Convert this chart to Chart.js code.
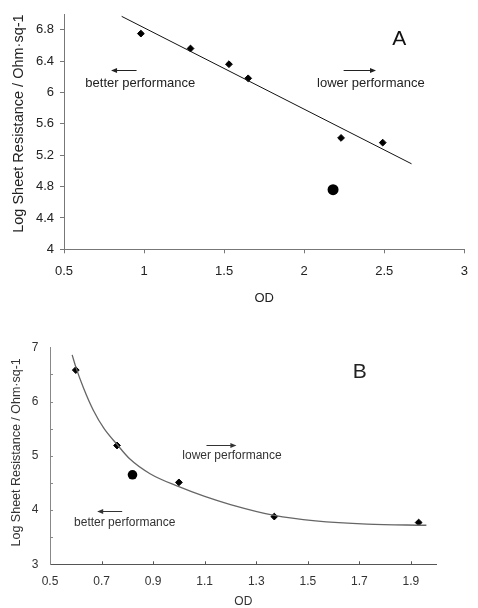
<!DOCTYPE html>
<html><head><meta charset="utf-8">
<script src="https://cdn.jsdelivr.net/npm/chart.js@4.4.1/dist/chart.umd.min.js"></script>
<style>
html,body{margin:0;padding:0;background:#fff;}
body{width:478px;height:608px;position:relative;overflow:hidden;}
canvas{position:absolute;left:0;}
#cA{top:0;} #cB{top:300px;}
</style></head><body>
<canvas id="cA" width="478" height="310"></canvas>
<canvas id="cB" width="478" height="308"></canvas>
<script>
// ---- Panel A data ----
const odA = [0.98, 1.29, 1.53, 1.65, 2.23, 2.49];
const rsA = [6.75, 6.56, 6.36, 6.18, 5.42, 5.36];
const odCircleA = [2.18];
const rsCircleA = [4.76];
const trendAX = [0.86, 2.67];
const trendAY = [6.97, 5.09];
const xTicksA = [0.5, 1, 1.5, 2, 2.5, 3];
const yTicksA = [4, 4.4, 4.8, 5.2, 5.6, 6, 6.4, 6.8];

// ---- Panel B data ----
const odB = [0.60, 0.76, 1.00, 1.37, 1.93];
const rsB = [6.58, 5.19, 4.51, 3.88, 3.77];
const odCircleB = [0.82];
const rsCircleB = [4.65];
const fitBX = [0.586, 0.60, 0.63, 0.668, 0.71, 0.76, 0.81, 0.888, 1.0, 1.1, 1.2, 1.37, 1.53, 1.73, 1.96];
const fitBY = [6.86, 6.64, 6.25, 5.84, 5.50, 5.21, 4.94, 4.67, 4.43, 4.25, 4.10, 3.90, 3.80, 3.74, 3.72];
const xTicksB = [0.5, 0.7, 0.9, 1.1, 1.3, 1.5, 1.7, 1.9];
const yTicksB = [3, 4, 5, 6, 7];
const yMarksB = [3.5, 4, 4.5, 5, 5.5, 6, 6.5];

const yTitle = 'Log Sheet Resistance / Ohm\u00b7sq-1';
const FONT = "'Liberation Sans', Arial, Helvetica, sans-serif";

const pts = (xs, ys) => xs.map((x, i) => ({x: x, y: ys[i]}));

const annotPlugin = {
  id: 'annot',
  afterDatasetsDraw(chart, args, opts) {
    const ctx = chart.ctx, xs = chart.scales.x, ys = chart.scales.y, ca = chart.chartArea;
    ctx.save();
    (opts.marksX || []).forEach(v => {
      const x = Math.round(xs.getPixelForValue(v)) + 0.5;
      ctx.strokeStyle = opts.markColorX; ctx.lineWidth = 1;
      ctx.beginPath(); ctx.moveTo(x, ca.bottom); ctx.lineTo(x, ca.bottom - 3); ctx.stroke();
    });
    (opts.marksY || []).forEach(v => {
      const y = Math.round(ys.getPixelForValue(v)) + 0.5;
      ctx.strokeStyle = opts.markColorY; ctx.lineWidth = 1;
      ctx.beginPath(); ctx.moveTo(ca.left, y); ctx.lineTo(ca.left + 3, y); ctx.stroke();
    });
    (opts.texts || []).forEach(t => {
      ctx.font = t.font; ctx.fillStyle = t.color;
      ctx.textAlign = 'center'; ctx.textBaseline = 'middle';
      ctx.fillText(t.text, xs.getPixelForValue(t.x), ys.getPixelForValue(t.y));
    });
    (opts.arrows || []).forEach(a => {
      const x1 = xs.getPixelForValue(a.x1), x2 = xs.getPixelForValue(a.x2);
      const y = Math.round(ys.getPixelForValue(a.y)) + 0.5;
      ctx.strokeStyle = a.color; ctx.fillStyle = a.color; ctx.lineWidth = 1;
      ctx.beginPath(); ctx.moveTo(x1, y); ctx.lineTo(x2, y); ctx.stroke();
      const d = Math.sign(x2 - x1);
      ctx.beginPath(); ctx.moveTo(x2 + d, y); ctx.lineTo(x2 - d * 5, y - 2.5); ctx.lineTo(x2 - d * 5, y + 2.5);
      ctx.closePath(); ctx.fill();
    });
    ctx.restore();
  }
};

Chart.defaults.font.family = FONT;

new Chart(document.getElementById('cA'), {
  type: 'scatter',
  data: {
    datasets: [
      {data: pts(trendAX, trendAY), showLine: true, borderColor: '#111', borderWidth: 1, pointRadius: 0, fill: false},
      {data: pts(odA, rsA), pointStyle: 'rectRot', pointRadius: 3.4, backgroundColor: '#000', borderColor: '#000', borderWidth: 1},
      {data: pts(odCircleA, rsCircleA), pointStyle: 'circle', pointRadius: 5.5, backgroundColor: '#000', borderColor: '#000', borderWidth: 0}
    ]
  },
  options: {
    responsive: false, animation: false, events: [],
    layout: {padding: {top: 14, right: 6, left: 0, bottom: 0}},
    plugins: {
      legend: {display: false}, tooltip: {enabled: false},
      annot: {
        texts: [
          {text: 'A', x: 2.593, y: 6.685, font: "21px " + FONT, color: '#111'},
          {text: 'better performance', x: 0.976, y: 6.121, font: "13px " + FONT, color: '#222'},
          {text: 'lower performance', x: 2.416, y: 6.121, font: "13px " + FONT, color: '#222'}
        ],
        arrows: [
          {x1: 0.953, x2: 0.80, y: 6.288, color: '#222'},
          {x1: 2.246, x2: 2.442, y: 6.288, color: '#222'}
        ]
      }
    },
    scales: {
      x: {
        type: 'linear', min: 0.5, max: 3,
        afterBuildTicks: s => { s.ticks = xTicksA.map(v => ({value: v})); },
        afterFit: s => { s.height = 60.7; },
        ticks: {font: {size: 13}, color: '#222', padding: 10, maxRotation: 0, autoSkip: false, callback: v => String(v)},
        grid: {drawOnChartArea: false, drawTicks: true, tickLength: 4, color: '#777'},
        border: {color: '#777', width: 1},
        title: {display: true, text: 'OD', font: {size: 13}, color: '#222', padding: {top: 0, bottom: 4}}
      },
      y: {
        type: 'linear', min: 4, max: 7,
        afterBuildTicks: s => { s.ticks = yTicksA.map(v => ({value: v})); },
        afterFit: s => { s.width = 64; },
        ticks: {font: {size: 13}, color: '#222', padding: 6, autoSkip: false, callback: v => String(v)},
        grid: {drawOnChartArea: false, drawTicks: true, tickLength: 4, color: '#777'},
        border: {color: '#777', width: 1},
        title: {display: true, text: '\u00a0\u00a0\u00a0\u00a0' + yTitle, font: {size: 14.5}, color: '#222', padding: {top: 10, bottom: 0}}
      }
    }
  },
  plugins: [annotPlugin]
});

new Chart(document.getElementById('cB'), {
  type: 'scatter',
  data: {
    datasets: [
      {data: pts(fitBX, fitBY), showLine: true, borderColor: '#666', borderWidth: 1.3, pointRadius: 0, fill: false, cubicInterpolationMode: 'monotone'},
      {data: pts(odB, rsB), pointStyle: 'rectRot', pointRadius: 3.4, backgroundColor: '#000', borderColor: '#000', borderWidth: 1},
      {data: pts(odCircleB, rsCircleB), pointStyle: 'circle', pointRadius: 4.8, backgroundColor: '#000', borderColor: '#000', borderWidth: 0}
    ]
  },
  options: {
    responsive: false, animation: false, events: [],
    layout: {padding: {top: 47.3, right: 41.3, left: 0, bottom: 0}},
    plugins: {
      legend: {display: false}, tooltip: {enabled: false},
      annot: {
        marksX: xTicksB.slice(1), markColorX: '#555',
        marksY: yMarksB, markColorY: '#888',
        texts: [
          {text: 'B', x: 1.702, y: 6.532, font: "21px " + FONT, color: '#222'},
          {text: 'lower performance', x: 1.206, y: 4.996, font: "12px " + FONT, color: '#333'},
          {text: 'better performance', x: 0.790, y: 3.774, font: "12px " + FONT, color: '#333'}
        ],
        arrows: [
          {x1: 1.107, x2: 1.219, y: 5.205, color: '#333'},
          {x1: 0.780, x2: 0.687, y: 3.977, color: '#333'}
        ]
      }
    },
    scales: {
      x: {
        type: 'linear', min: 0.5, max: 2.0,
        afterBuildTicks: s => { s.ticks = xTicksB.map(v => ({value: v})); },
        afterFit: s => { s.height = 43.7; },
        ticks: {font: {size: 12}, color: '#333', padding: 10, maxRotation: 0, autoSkip: false, callback: v => String(v)},
        grid: {drawOnChartArea: false, drawTicks: false},
        border: {color: '#555', width: 1},
        title: {display: true, text: 'OD', font: {size: 12, lineHeight: 1}, color: '#333', padding: {top: 0, bottom: 0}}
      },
      y: {
        type: 'linear', min: 3, max: 7,
        afterBuildTicks: s => { s.ticks = yTicksB.map(v => ({value: v})); },
        afterFit: s => { s.width = 50; },
        ticks: {font: {size: 12}, color: '#333', padding: 11.5, autoSkip: false, callback: v => String(v)},
        grid: {drawOnChartArea: false, drawTicks: false},
        border: {color: '#888', width: 1},
        title: {display: true, text: '\u00a0\u00a0' + yTitle, font: {size: 12.5}, color: '#333', padding: {top: 9, bottom: 0}}
      }
    }
  },
  plugins: [annotPlugin]
});
</script>
</body></html>
